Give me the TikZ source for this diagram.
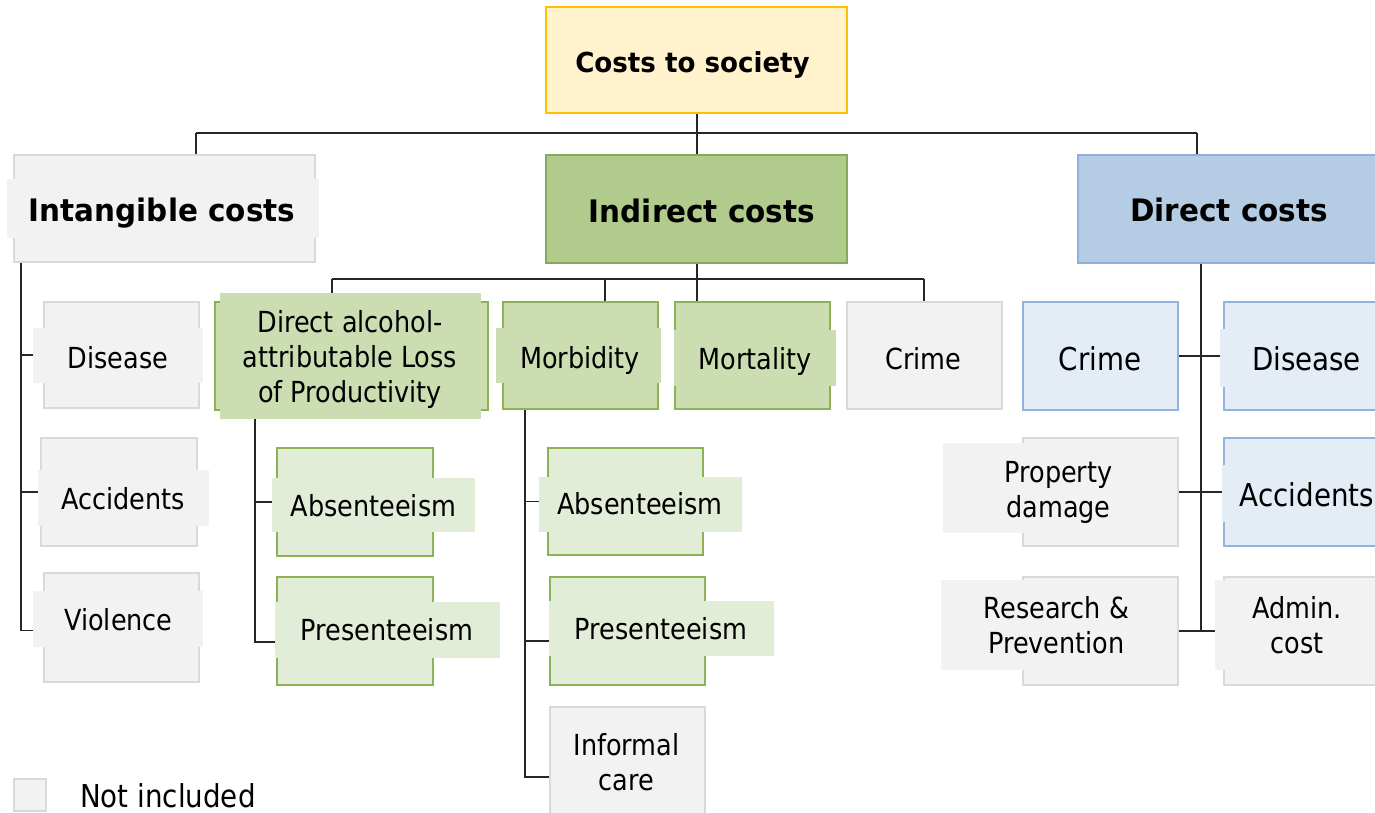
\documentclass[tikz,border=0pt]{standalone}
\usepackage{fontspec}
\setmainfont{DejaVu Sans}[FakeStretch=0.88]
\newfontfamily\titlefont{DejaVu Sans}[FakeStretch=0.95]
\usetikzlibrary{backgrounds}

\definecolor{linec}{HTML}{262626}
\definecolor{grayf}{HTML}{F2F2F2}
\definecolor{grayd}{HTML}{D9D9D9}
\definecolor{yelf}{HTML}{FFF2CC}
\definecolor{yeld}{HTML}{FFC000}
\definecolor{gdarkf}{HTML}{B0CB8B}
\definecolor{gdarkd}{HTML}{84AA5A}
\definecolor{gmidf}{HTML}{CCDDB2}
\definecolor{gmidd}{HTML}{8DB255}
\definecolor{glightf}{HTML}{E2EDD7}
\definecolor{bdarkf}{HTML}{B4CCE4}
\definecolor{bdarkd}{HTML}{8FB0DC}
\definecolor{blightf}{HTML}{E4ECF6}
\definecolor{blightd}{HTML}{8FB4E0}

\newcommand\regfont{\fontsize{29}{35}\selectfont}
\newcommand\bigfont{\fontsize{31.5}{37}\selectfont}

\tikzset{
  conn/.style={draw=linec, line width=1.8pt},
  cbox/.style={rectangle, inner sep=0pt, outer sep=0pt, line width=1.6pt},
  graybox/.style={cbox, fill=grayf, draw=grayd},
  yelbox/.style={cbox, fill=yelf, draw=yeld},
  gdarkbox/.style={cbox, fill=gdarkf, draw=gdarkd},
  gmidbox/.style={cbox, fill=gmidf, draw=gmidd},
  glightbox/.style={cbox, fill=glightf, draw=gmidd},
  bdarkbox/.style={cbox, fill=bdarkf, draw=bdarkd},
  blightbox/.style={cbox, fill=blightf, draw=blightd},
  lbl/.style={inner sep=0pt, anchor=base, align=center, text=black, font=\regfont},
  biglbl/.style={lbl, font=\bigfont},
  titlelbl/.style={lbl, font=\titlefont\bfseries\fontsize{31}{37}\selectfont},
}

% box given by its corners (x1,y1) and (x2,y2), y counted downwards
\newcommand\boxat[6]{\node[#1, minimum width={(#5-#3)*1pt}, minimum height={(#6-#4)*1pt}] (#2) at ({(#3+#5)/2},{(#4+#6)/2}) {};}
% plain label panel laid over a box
\newcommand\panel[5]{\fill[#1] (#2,#3) rectangle (#4,#5);}

\begin{document}
\begin{tikzpicture}[x=1pt, y=-1pt]
\useasboundingbox (0,0) rectangle (1375,812);
\clip (0,0) rectangle (1375,812);

% ---- top level (labels of several lines sit on the baseline of their last line)
\boxat{yelbox}{top}{546}{7}{847}{113}
\node[titlelbl, font=\titlefont\bfseries\fontsize{27.5}{33}\selectfont] (top-l) at (692.5,72) {Costs to society};

\boxat{graybox}{intang}{14}{155}{315}{262}
\panel{grayf}{7}{179}{319}{238}
\node[titlelbl] (intang-l) at (162,221) {Intangible costs};

\boxat{gdarkbox}{indir}{546}{155}{847}{263}
\node[titlelbl] (indir-l) at (702,222) {Indirect costs};

\boxat{bdarkbox}{direct}{1078}{155}{1380}{263}
\node[titlelbl] (direct-l) at (1229,221) {Direct costs};

% ---- intangible costs
\boxat{graybox}{ldis}{44}{302}{199}{408}
\panel{grayf}{33}{328}{203}{383}
\node[lbl] (ldis-l) at (118,368) {Disease};

\boxat{graybox}{lacc}{41}{438}{197}{546}
\panel{grayf}{38}{470}{209}{526}
\node[lbl] (lacc-l) at (123,509) {Accidents};

\boxat{graybox}{lvio}{44}{573}{199}{682}
\panel{grayf}{33}{591}{203}{647}
\node[lbl] (lvio-l) at (118.5,630) {Violence};

% ---- indirect costs
\boxat{gmidbox}{dal}{215}{302}{488}{410}
\panel{gmidf}{220}{293}{481}{419}
\node[lbl] (dal-l) at (350,402) {Direct alcohol-\\attributable Loss\\of Productivity};

\boxat{glightbox}{abs1}{277}{448}{433}{556}
\panel{glightf}{272}{478}{475}{532}
\node[lbl] (abs1-l) at (373.5,516) {Absenteeism};

\boxat{glightbox}{pres1}{277}{577}{433}{685}
\panel{glightf}{275}{602}{500}{658}
\node[lbl] (pres1-l) at (387,640) {Presenteeism};

\boxat{gmidbox}{morb}{503}{302}{658}{409}
\panel{gmidf}{496}{328}{661}{383}
\node[lbl] (morb-l) at (580,368) {Morbidity};

\boxat{gmidbox}{mort}{675}{302}{830}{409}
\panel{gmidf}{674}{330}{836}{386}
\node[lbl] (mort-l) at (755,369) {Mortality};

\boxat{graybox}{crimeg}{847}{302}{1002}{409}
\node[lbl] (crimeg-l) at (923.5,369) {Crime};

\boxat{glightbox}{abs2}{548}{448}{703}{555}
\panel{glightf}{539}{477}{742}{532}
\node[lbl] (abs2-l) at (640,514) {Absenteeism};

\boxat{glightbox}{pres2}{550}{577}{705}{685}
\panel{glightf}{549}{601}{774}{656}
\node[lbl] (pres2-l) at (661,639) {Presenteeism};

\boxat{graybox}{inf}{550}{707}{705}{815}
\node[lbl] (inf-l) at (626.5,790) {Informal\\care};

% ---- direct costs
\boxat{blightbox}{crimeb}{1023}{302}{1178}{410}
\node[biglbl] (crimeb-l) at (1100,370) {Crime};

\boxat{blightbox}{disb}{1224}{302}{1380}{410}
\panel{blightf}{1220}{329}{1392}{387}
\node[biglbl] (disb-l) at (1306.5,370) {Disease};

\boxat{graybox}{prop}{1023}{438}{1178}{546}
\panel{grayf}{943}{443}{1100}{533}
\node[lbl] (prop-l) at (1058.5,517) {Property\\damage};

\boxat{blightbox}{accb}{1224}{438}{1380}{546}
\panel{blightf}{1222}{465}{1392}{522}
\node[biglbl] (accb-l) at (1307,506) {Accidents};

\boxat{graybox}{res}{1023}{577}{1178}{685}
\panel{grayf}{941}{580}{1100}{670}
\node[lbl] (res-l) at (1056.5,653) {Research \&\\Prevention};

\boxat{graybox}{adm}{1224}{577}{1380}{685}
\panel{grayf}{1215}{580}{1392}{670}
\node[lbl] (adm-l) at (1297,653) {Admin.\\cost};

% ---- legend
\boxat{graybox}{key}{14}{779}{46}{811}
\node[biglbl, anchor=base west] (key-l) at (80,807) {Not included};

% ---- connectors
\coordinate (busL) at (196,133);
\coordinate (busC) at (697,133);
\coordinate (busR) at (1197,133);
\coordinate (itrunk) at (21,262);
\coordinate (ibL) at (332,279);
\coordinate (ibM) at (605,279);
\coordinate (ibC) at (697,279);
\coordinate (ibR) at (924,279);
\coordinate (dtrunk) at (255,410);
\coordinate (mtrunk) at (525,409);
\coordinate (rtrunk) at (1201,263);

\begin{scope}[on background layer]
  \draw[conn] (busC |- top.south) -- (busC);
  \draw[conn] (busL) -- (busR);
  \draw[conn] (busL) -- (busL |- intang.north);
  \draw[conn] (busC) -- (busC |- indir.north);
  \draw[conn] (busR) -- (busR |- direct.north);

  \draw[conn] (itrunk) |- ([yshift=-3pt]lvio.west);
  \draw[conn] (itrunk |- ldis.west) -- (ldis.west);
  \draw[conn] (itrunk |- lacc.west) -- (lacc.west);

  \draw[conn] (ibC |- indir.south) -- (ibC);
  \draw[conn] (ibL) -- (ibR);
  \draw[conn] (ibL) -- (ibL |- dal.north);
  \draw[conn] (ibM) -- (ibM |- morb.north);
  \draw[conn] (ibC) -- (ibC |- mort.north);
  \draw[conn] (ibR) -- (ibR |- crimeg.north);

  \draw[conn] (dtrunk) |- ([yshift=-11pt]pres1.west);
  \draw[conn] (dtrunk |- abs1.west) -- (abs1.west);

  \draw[conn] (mtrunk) |- ([yshift=-16pt]inf.west);
  \draw[conn] (mtrunk |- abs2.west) -- (abs2.west);
  \draw[conn] (mtrunk |- pres2.west) ++(0,-10pt) -- ([yshift=-10pt]pres2.west);

  \draw[conn] (rtrunk) -- (rtrunk |- res.east);
  \draw[conn] (crimeb.east) -- (disb.west);
  \draw[conn] (prop.east) -- (accb.west);
  \draw[conn] (res.east) -- (adm.west);
\end{scope}
\end{tikzpicture}
\end{document}
